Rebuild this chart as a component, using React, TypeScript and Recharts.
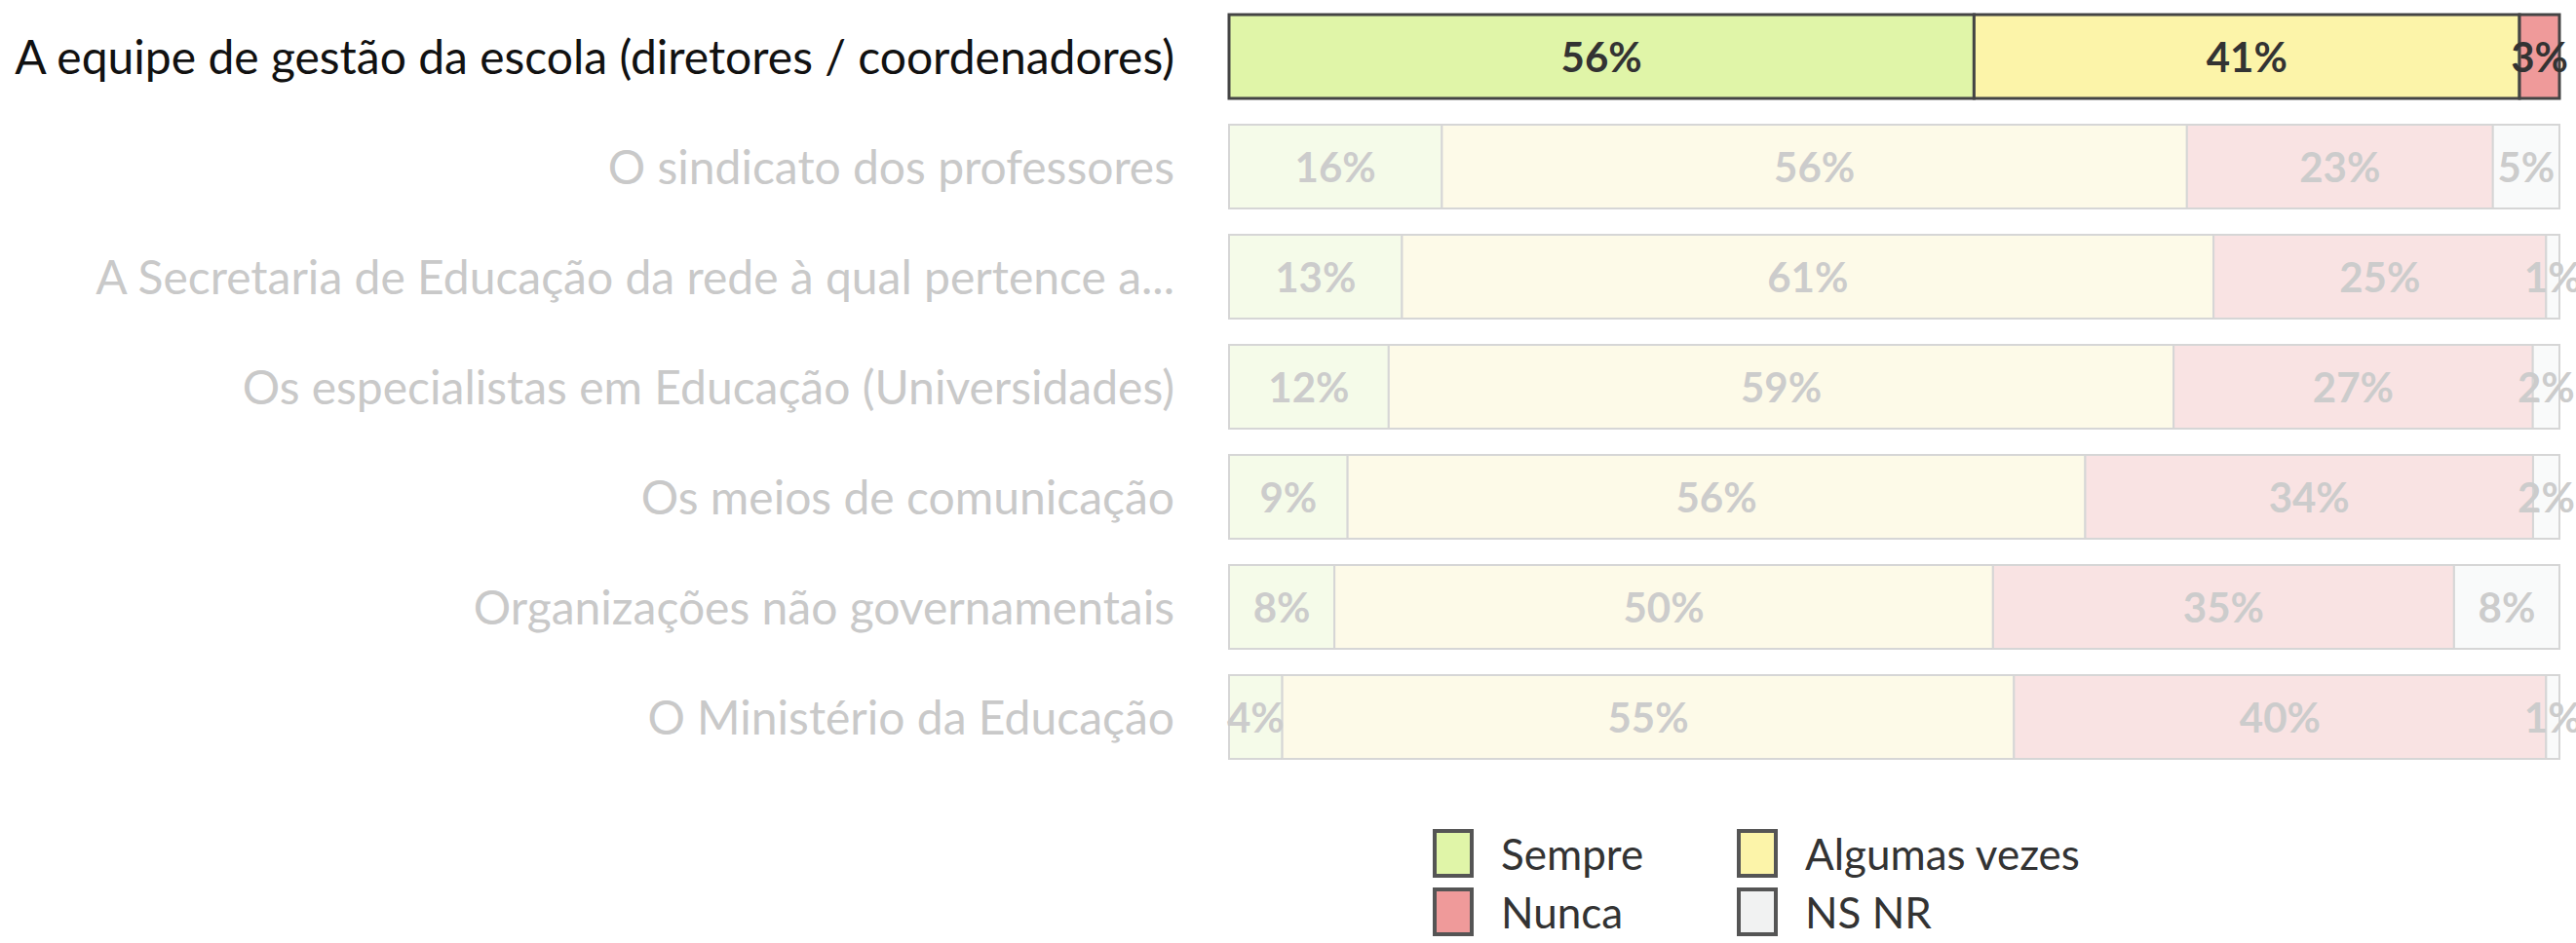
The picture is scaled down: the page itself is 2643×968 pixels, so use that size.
import { BarChart, Bar, XAxis, YAxis, Cell, LabelList } from "recharts";

const categories = [
  "A equipe de gestão da escola (diretores / coordenadores)",
  "O sindicato dos professores",
  "A Secretaria de Educação da rede à qual pertence a...",
  "Os especialistas em Educação (Universidades)",
  "Os meios de comunicação",
  "Organizações não governamentais",
  "O Ministério da Educação",
];

const sempre = [56, 16, 13, 12, 9, 8, 4];
const algumas = [41, 56, 61, 59, 56, 50, 55];
const nunca = [3, 23, 25, 27, 34, 35, 40];
const nsnr = [0, 5, 1, 2, 2, 8, 1];

const series = [
  { key: "sempre", name: "Sempre", color: "#e0f5a8", faded: "#f5fbe9" },
  { key: "algumas", name: "Algumas vezes", color: "#fcf4a9", faded: "#fdfae8" },
  { key: "nunca", name: "Nunca", color: "#ef9a9a", faded: "#f9e3e3" },
  { key: "nsnr", name: "NS NR", color: "#f1f2f2", faded: "#f9fafa" },
];

const legendOrder = ["sempre", "algumas", "nunca", "nsnr"];

const data = categories.map((name, i) => ({
  name,
  sempre: sempre[i],
  algumas: algumas[i],
  nunca: nunca[i],
  nsnr: nsnr[i],
}));

const FONT = "Lato, 'Open Sans', sans-serif";

function CategoryTick(props: any) {
  const { x, y, payload } = props;
  const active = payload.value === categories[0];
  return (
    <text
      x={x - 56}
      y={y}
      textAnchor="end"
      dominantBaseline="central"
      fontFamily={FONT}
      fontSize={48}
      fill={active ? "#111" : "#c9c9c9"}
    >
      {payload.value}
    </text>
  );
}

function PctLabel(props: any) {
  const { x, y, width, height, value } = props;
  const [v, row] = String(value).split("|").map(Number);
  if (!v) return null;
  return (
    <text
      x={x + width / 2}
      y={y + height / 2}
      textAnchor="middle"
      dominantBaseline="central"
      fontFamily={FONT}
      fontWeight={700}
      fontSize={42}
      fill={row === 0 ? "#333" : "#cccccc"}
    >
      {v}%
    </text>
  );
}

function LegendBox() {
  return (
    <div
      style={{
        position: "absolute",
        left: 1470,
        top: 850,
        display: "grid",
        gridTemplateColumns: "312px 380px",
        rowGap: 8,
        fontFamily: FONT,
        fontSize: 44,
        color: "#333",
      }}
    >
      {legendOrder.map((k) => {
        const s = series.find((d) => d.key === k)!;
        return (
          <div key={k} style={{ display: "flex", alignItems: "center" }}>
            <span
              style={{
                display: "inline-block",
                width: 42,
                height: 50,
                background: s.color,
                border: "4px solid #555",
                boxSizing: "border-box",
                marginRight: 28,
              }}
            />
            {s.name}
          </div>
        );
      })}
    </div>
  );
}

export default function App() {
  return (
    <div style={{ position: "absolute", left: 0, top: 0, width: 2643, height: 968, background: "#fff" }}>
      <BarChart
        width={2643}
        height={968}
        data={data}
        layout="vertical"
        stackOffset="expand"
        margin={{ top: 1, right: 17, bottom: 176, left: 0 }}
        barSize={86}
      >
        <XAxis type="number" hide domain={[0, 1]} />
        <YAxis
          type="category"
          dataKey="name"
          width={1261}
          axisLine={false}
          tickLine={false}
          tickSize={0}
          tickMargin={0}
          interval={0}
          tick={<CategoryTick />}
        />
        {series.map((s) => (
          <Bar key={s.key} dataKey={s.key} name={s.name} stackId="a" isAnimationActive={false}>
            {data.map((_, i) => (
              <Cell
                key={i}
                fill={i === 0 ? s.color : s.faded}
                stroke={i === 0 ? "#444" : "#d6d6d6"}
                strokeWidth={i === 0 ? 3 : 2}
              />
            ))}
            <LabelList
              dataKey={(d: any) => `${d[s.key]}|${categories.indexOf(d.name)}`}
              content={<PctLabel />}
            />
          </Bar>
        ))}
      </BarChart>
      <LegendBox />
    </div>
  );
}
